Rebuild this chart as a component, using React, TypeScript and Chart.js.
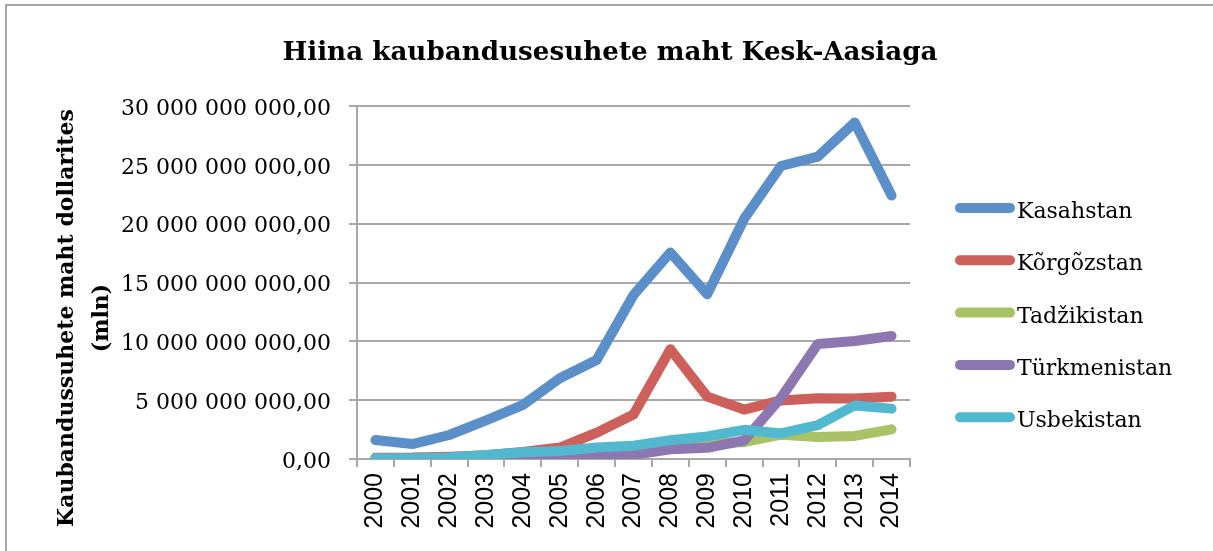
import React, { useEffect, useRef } from "react";
import { Chart, registerables } from "chart.js";

Chart.register(...registerables);

const years = ["2000", "2001", "2002", "2003", "2004", "2005", "2006", "2007", "2008", "2009", "2010", "2011", "2012", "2013", "2014"];
const seriesNames = ["Kasahstan", "Kõrgõzstan", "Tadžikistan", "Türkmenistan", "Usbekistan"];
const kasahstan = [1.61e9, 1.27e9, 2.04e9, 3.29e9, 4.59e9, 6.86e9, 8.41e9, 13.94e9, 17.55e9, 14.0e9, 20.4e9, 24.9e9, 25.7e9, 28.6e9, 22.4e9];
const korgozstan = [0.11e9, 0.12e9, 0.2e9, 0.31e9, 0.6e9, 0.97e9, 2.23e9, 3.78e9, 9.33e9, 5.3e9, 4.2e9, 4.98e9, 5.16e9, 5.14e9, 5.3e9];
const tadzikistan = [0.02e9, 0.01e9, 0.01e9, 0.04e9, 0.07e9, 0.16e9, 0.32e9, 0.52e9, 1.5e9, 1.4e9, 1.43e9, 2.07e9, 1.86e9, 1.96e9, 2.52e9];
const turkmenistan = [0.02e9, 0.03e9, 0.09e9, 0.08e9, 0.1e9, 0.11e9, 0.18e9, 0.35e9, 0.83e9, 0.95e9, 1.57e9, 5.2e9, 9.78e9, 10.03e9, 10.45e9];
const usbekistan = [0.05e9, 0.06e9, 0.13e9, 0.35e9, 0.58e9, 0.68e9, 0.97e9, 1.13e9, 1.6e9, 1.92e9, 2.48e9, 2.17e9, 2.88e9, 4.55e9, 4.28e9];
const seriesColors = ["#5b8fc9", "#cd605a", "#a8c265", "#8e76b0", "#52b8d0"];
const yTicks = [0, 5e9, 10e9, 15e9, 20e9, 25e9, 30e9];

const titleText = "Hiina kaubandusesuhete maht Kesk-Aasiaga";
const yTitleLines = ["Kaubandussuhete maht dollarites", "(mln)"];

const SERIF = "'DejaVu Serif', serif";
const GRID = "#a8a8a8";

function formatNum(v: number): string {
  const s = Math.round(v).toString();
  const parts: string[] = [];
  for (let i = s.length; i > 0; i -= 3) parts.unshift(s.slice(Math.max(0, i - 3), i));
  return parts.join(" ") + ",00";
}

const decorPlugin = {
  id: "decor",
  afterDraw(chart: any) {
    const ctx = chart.ctx as CanvasRenderingContext2D;
    ctx.save();
    // Title
    ctx.fillStyle = "#000";
    ctx.font = `bold 26.2px ${SERIF}`;
    ctx.textAlign = "center";
    ctx.textBaseline = "alphabetic";
    ctx.fillText(titleText, 610, 60);
    // Y title
    ctx.save();
    ctx.translate(0, 318);
    ctx.rotate(-Math.PI / 2);
    ctx.font = `bold 22px ${SERIF}`;
    ctx.textAlign = "center";
    ctx.fillText(yTitleLines[0], 0, 73);
    ctx.fillText(yTitleLines[1], 0, 108);
    ctx.restore();
    // Legend
    const ds = chart.data.datasets;
    ctx.font = `22px ${SERIF}`;
    ctx.textAlign = "left";
    ds.forEach((d: any, i: number) => {
      const cy = 208 + i * 52.3;
      ctx.strokeStyle = d.borderColor;
      ctx.lineWidth = 10;
      ctx.lineCap = "round";
      ctx.beginPath();
      ctx.moveTo(960, cy);
      ctx.lineTo(1010, cy);
      ctx.stroke();
      ctx.fillStyle = "#000";
      ctx.fillText(d.label, 1017, cy + 10);
    });
    ctx.restore();
  },
};

export default function App() {
  const ref = useRef<HTMLCanvasElement | null>(null);
  useEffect(() => {
    if (!ref.current) return;
    const values = [kasahstan, korgozstan, tadzikistan, turkmenistan, usbekistan];
    const chart = new Chart(ref.current, {
      type: "line",
      data: {
        labels: years,
        datasets: seriesNames.map((name, i) => ({
          label: name,
          data: values[i],
          order: seriesNames.length - i,
          borderColor: seriesColors[i],
          backgroundColor: seriesColors[i],
          borderWidth: 10,
          pointRadius: 0,
          pointHoverRadius: 0,
          tension: 0,
          borderCapStyle: "round" as const,
          borderJoinStyle: "round" as const,
          fill: false,
        })),
      },
      options: {
        responsive: false,
        animation: false,
        devicePixelRatio: 1,
        layout: { padding: { left: 0, top: 106, right: 303, bottom: 0 } },
        plugins: {
          legend: { display: false },
          title: { display: false },
          tooltip: { enabled: false },
        },
        scales: {
          x: {
            offset: true,
            grid: { offset: true, drawOnChartArea: false, drawTicks: true, tickLength: 8, color: GRID, lineWidth: 2 },
            border: { display: true, color: GRID, width: 2 },
            ticks: {
              minRotation: 90,
              maxRotation: 90,
              autoSkip: false,
              padding: 6,
              color: "#000",
              font: { family: "'Liberation Sans', Arial, sans-serif", size: 25 },
            },
            afterFit: (s: any) => {
              s.height = 92;
            },
          },
          y: {
            min: 0,
            max: 30e9,
            afterBuildTicks: (s: any) => {
              s.ticks = yTicks.map((v) => ({ value: v }));
            },
            grid: { color: GRID, lineWidth: 2, tickLength: 8, drawTicks: true },
            border: { display: true, color: GRID, width: 2 },
            ticks: {
              padding: 18,
              labelOffset: 3,
              color: "#000",
              font: { family: SERIF, size: 22 },
              callback: (v: any) => formatNum(Number(v)),
            },
            afterFit: (s: any) => {
              s.width = 357;
            },
          },
        },
      },
      plugins: [decorPlugin],
    });
    return () => chart.destroy();
  }, []);
  return (
    <div style={{ position: "fixed", left: 0, top: 0, width: 1213, height: 551, overflow: "hidden", background: "#fff" }}>
      <div style={{ position: "absolute", left: 5, top: 4, width: 1300, height: 700, border: "2px solid #a6a6a6", boxSizing: "border-box" }} />
      <canvas ref={ref} width={1213} height={551} style={{ position: "absolute", left: 0, top: 0, width: 1213, height: 551 }} />
    </div>
  );
}
